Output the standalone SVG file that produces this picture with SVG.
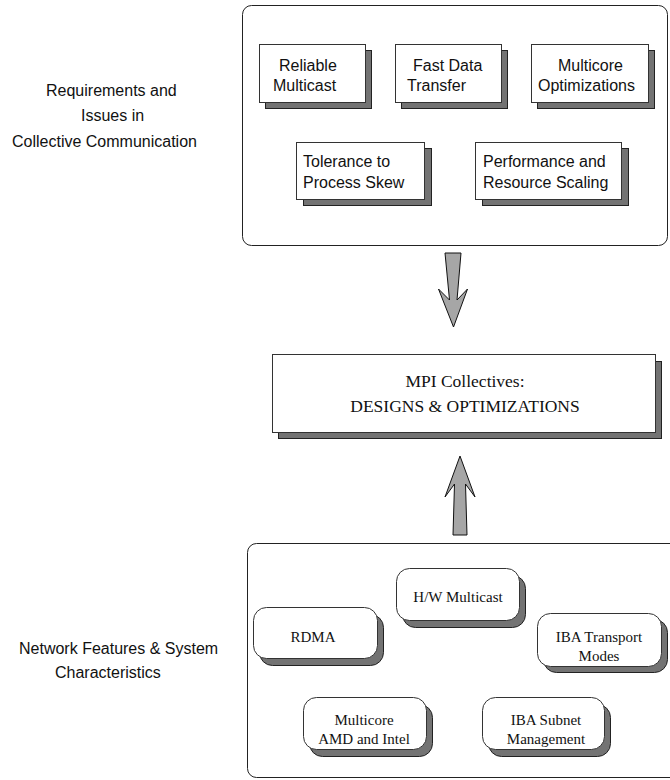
<svg xmlns="http://www.w3.org/2000/svg" width="670" height="780" viewBox="0 0 670 780">
  <style>
    .frame { fill: #ffffff; stroke: #222222; stroke-width: 1; }
    .card { fill: #ffffff; stroke: #333333; stroke-width: 1; }
    .shade { fill: #737373; stroke: #222222; stroke-width: 1; }
    .arrow { fill: #a6a6a6; stroke: #111111; stroke-width: 1; stroke-linejoin: miter; }
    .sans { font-family: "Liberation Sans", Arial, sans-serif; font-size: 16px; fill: #111111; }
    .serif { font-family: "Liberation Serif", "Times New Roman", serif; font-size: 15px; fill: #111111; }
    .serif-lg { font-family: "Liberation Serif", "Times New Roman", serif; font-size: 17.5px; fill: #111111; }
    .mid { text-anchor: middle; }
  </style>
  <rect width="670" height="780" fill="#ffffff"/>

  <!-- side captions -->
  <g id="label-requirements">
    <text class="sans" x="46" y="96">Requirements and</text>
    <text class="sans" x="81" y="121">Issues in</text>
    <text class="sans" x="12" y="147">Collective Communication</text>
  </g>
  <g id="label-network">
    <text class="sans" x="19" y="654">Network Features &amp; System</text>
    <text class="sans" x="55" y="678">Characteristics</text>
  </g>

  <!-- upper panel: requirements -->
  <g id="requirements-panel">
    <rect class="frame" x="242.5" y="5.5" width="425" height="240" rx="9"/>
  </g>
  <g id="reliable-multicast">
    <rect class="shade" x="265.5" y="50.5" width="106" height="58"/>
    <rect class="card" x="259.5" y="44.5" width="106" height="58"/>
    <text class="sans" x="279" y="71">Reliable</text>
    <text class="sans" x="273" y="91">Multicast</text>
  </g>
  <g id="fast-data-transfer">
    <rect class="shade" x="401.5" y="50.5" width="106" height="58"/>
    <rect class="card" x="395.5" y="44.5" width="106" height="58"/>
    <text class="sans" x="413" y="71">Fast Data</text>
    <text class="sans" x="407" y="91">Transfer</text>
  </g>
  <g id="multicore-optimizations">
    <rect class="shade" x="537.5" y="50.5" width="117" height="58"/>
    <rect class="card" x="531.5" y="44.5" width="117" height="58"/>
    <text class="sans" x="558" y="71">Multicore</text>
    <text class="sans" x="538" y="91">Optimizations</text>
  </g>
  <g id="process-skew">
    <rect class="shade" x="303.5" y="148.5" width="128" height="57"/>
    <rect class="card" x="296.5" y="142.5" width="128" height="57"/>
    <text class="sans" x="303" y="167">Tolerance to</text>
    <text class="sans" x="303" y="188">Process Skew</text>
  </g>
  <g id="resource-scaling">
    <rect class="shade" x="482.5" y="148.5" width="146" height="57"/>
    <rect class="card" x="475.5" y="142.5" width="146" height="57"/>
    <text class="sans" x="483" y="167">Performance and</text>
    <text class="sans" x="483" y="188">Resource Scaling</text>
  </g>

  <!-- central box -->
  <g id="mpi-collectives">
    <rect class="shade" x="278.5" y="361.5" width="383" height="77"/>
    <rect class="card" x="272.5" y="354.5" width="383" height="78"/>
    <text class="serif-lg mid" x="465" y="387">MPI Collectives:</text>
    <text class="serif-lg mid" x="465" y="412">DESIGNS &amp; OPTIMIZATIONS</text>
  </g>

  <!-- block arrows -->
  <g id="connectors">
    <polygon class="arrow" points="445,253 461,253 457,300 467.5,289 453.5,327 438.5,289 449.5,300"/>
    <polygon class="arrow" points="453,535 467,535 465.5,484 475,497 460,456 445,497 454.5,484"/>
  </g>

  <!-- lower panel: network features -->
  <g id="network-panel">
    <rect class="frame" x="247.5" y="543.5" width="440" height="234" rx="9"/>
  </g>
  <g id="hw-multicast">
    <rect class="shade" x="402.5" y="575.5" width="123" height="52" rx="13"/>
    <rect class="card" x="396.5" y="568.5" width="123" height="52" rx="13"/>
    <text class="serif mid" x="458" y="602">H/W Multicast</text>
  </g>
  <g id="rdma">
    <rect class="shade" x="259.5" y="614.5" width="124" height="51" rx="13"/>
    <rect class="card" x="253.5" y="607.5" width="124" height="51" rx="13"/>
    <text class="serif mid" x="313" y="642">RDMA</text>
  </g>
  <g id="iba-transport">
    <rect class="shade" x="543.5" y="619.5" width="124" height="53" rx="13"/>
    <rect class="card" x="537.5" y="613.5" width="124" height="53" rx="13"/>
    <text class="serif mid" x="599" y="642">IBA Transport</text>
    <text class="serif mid" x="599" y="661">Modes</text>
  </g>
  <g id="multicore-amd-intel">
    <rect class="shade" x="309.5" y="704.5" width="123" height="52" rx="13"/>
    <rect class="card" x="303.5" y="697.5" width="123" height="52" rx="13"/>
    <text class="serif mid" x="364" y="725">Multicore</text>
    <text class="serif mid" x="364" y="744">AMD and Intel</text>
  </g>
  <g id="iba-subnet">
    <rect class="shade" x="488.5" y="704.5" width="122" height="52" rx="13"/>
    <rect class="card" x="482.5" y="697.5" width="122" height="52" rx="13"/>
    <text class="serif mid" x="546" y="725">IBA Subnet</text>
    <text class="serif mid" x="546" y="744">Management</text>
  </g>
</svg>
